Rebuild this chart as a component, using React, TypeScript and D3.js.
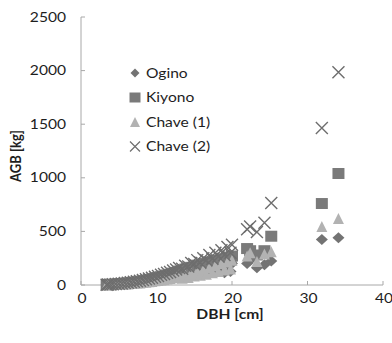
import React from "react";
import * as d3 from "d3";

const dbh = [3.4, 3.6, 3.9, 4.2, 4.6, 5.0, 5.4, 5.8, 6.2, 6.6, 7.0, 7.4, 7.8, 8.2, 8.6, 9.0, 9.4, 9.8, 10.2, 10.6, 11.0, 11.4, 11.8, 12.2, 12.6, 13.0, 13.4, 13.8, 14.2, 14.6, 15.0, 15.4, 15.8, 16.2, 16.6, 17.0, 17.4, 17.8, 18.2, 18.6, 19.0, 19.4, 19.8, 20.0, 22.0, 22.4, 23.3, 24.3, 25.2, 31.9, 34.1];
const ogino = [2, 3, 3, 5, 5, 8, 9, 12, 13, 17, 18, 23, 25, 30, 33, 39, 42, 49, 52, 60, 63, 72, 74, 85, 86, 98, 70, 110, 80, 125, 95, 140, 100, 150, 110, 165, 120, 175, 130, 185, 115, 195, 125, 200, 200, 230, 160, 190, 225, 425, 440];
const kiyono = [3, 4, 5, 7, 8, 11, 13, 16, 19, 23, 26, 31, 35, 40, 45, 52, 57, 65, 70, 78, 84, 94, 100, 111, 118, 130, 125, 148, 140, 165, 158, 185, 170, 200, 185, 215, 195, 230, 210, 245, 220, 260, 235, 270, 340, 320, 280, 320, 455, 760, 1040];
const chave1 = [2, 2, 3, 4, 5, 6, 7, 9, 10, 13, 14, 18, 19, 24, 26, 31, 33, 39, 41, 47, 50, 57, 60, 68, 72, 80, 62, 95, 70, 110, 85, 125, 90, 140, 100, 160, 115, 180, 125, 200, 140, 215, 150, 230, 270, 300, 220, 290, 310, 545, 620];
const chave2 = [3, 4, 5, 7, 9, 12, 14, 18, 21, 26, 30, 36, 40, 47, 53, 61, 68, 77, 84, 95, 102, 114, 122, 135, 145, 158, 152, 180, 172, 205, 195, 232, 210, 250, 230, 280, 245, 300, 265, 325, 280, 355, 300, 375, 520, 545, 495, 580, 765, 1465, 1985];

const seriesNames = ["Ogino", "Kiyono", "Chave (1)", "Chave (2)"];
const xTicks = [0, 10, 20, 30, 40];
const yTicks = [0, 500, 1000, 1500, 2000, 2500];

const FONT = "Lato, 'Open Sans', sans-serif";
const SX = 1.2;

const T = ({ x, y, anchor = "start", bold = false, size = 13, rotate = false, children }: any) => (
  <g transform={`translate(${x},${y}) scale(${SX},1)${rotate ? " rotate(-90)" : ""}`}>
    <text textAnchor={anchor} fontFamily={FONT} fontSize={size} fontWeight={bold ? 700 : 400} fill="#1e1e1e">
      {children}
    </text>
  </g>
);

const diamond = (w: number, h: number) => `M0,${-h / 2}L${w / 2},0L0,${h / 2}L${-w / 2},0Z`;
const square = (w: number, h: number) => `M${-w / 2},${-h / 2}h${w}v${h}h${-w}Z`;
const triangle = (w: number, h: number) => `M0,${-h / 2}L${w / 2},${h / 2}L${-w / 2},${h / 2}Z`;
const cross = (w: number, h: number) => `M${-w / 2},${-h / 2}L${w / 2},${h / 2}M${w / 2},${-h / 2}L${-w / 2},${h / 2}`;

const styles = [
  { path: diamond, fill: "#737373", stroke: "none", w: 12, h: 11, lw: 9, lh: 9 },
  { path: square, fill: "#7a7a7a", stroke: "none", w: 12, h: 11, lw: 11, lh: 10 },
  { path: triangle, fill: "#b2b2b2", stroke: "none", w: 11, h: 11, lw: 10, lh: 10 },
  { path: cross, fill: "none", stroke: "#6e6e6e", w: 12, h: 12, lw: 10, lh: 10 },
];

export default function App() {
  const x = d3.scaleLinear().domain([0, 40]).range([81, 383]);
  const y = d3.scaleLinear().domain([0, 2500]).range([285, 17]);
  const series = [ogino, kiyono, chave1, chave2];
  const axisColor = "#a8a8a8";

  return (
    <svg width={392} height={343} style={{ position: "absolute", left: 0, top: 0, background: "#fff" }}>
      <rect width={392} height={343} fill="#fff" />
      <line x1={x(0)} x2={x(0)} y1={y(2500)} y2={y(0)} stroke={axisColor} strokeWidth={1} />
      <line x1={x(0)} x2={x(40)} y1={y(0)} y2={y(0)} stroke={axisColor} strokeWidth={1} />
      {yTicks.map((t) => (
        <g key={"y" + t}>
          <line x1={x(0)} x2={x(0) + 4} y1={y(t)} y2={y(t)} stroke={axisColor} />
          <T x={66} y={y(t) + 4.5} anchor="end">{t}</T>
        </g>
      ))}
      {xTicks.map((t) => (
        <g key={"x" + t}>
          <line x1={x(t)} x2={x(t)} y1={y(0)} y2={y(0) - 4} stroke={axisColor} />
          <T x={x(t) + 1} y={303} anchor="middle">{t}</T>
        </g>
      ))}
      {series.map((vals, si) => {
        const s = styles[si];
        return (
          <g key={"s" + si}>
            {vals.map((v, i) => (
              <path
                key={i}
                transform={`translate(${x(dbh[i])},${y(v)})`}
                d={s.path(s.w, s.h)}
                fill={s.fill}
                stroke={s.stroke}
                strokeWidth={1.4}
              />
            ))}
          </g>
        );
      })}
      {seriesNames.map((name, i) => {
        const s = styles[i];
        const cy = 73 + i * 24.5;
        return (
          <g key={"l" + i}>
            <path transform={`translate(135,${cy})`} d={s.path(s.lw, s.lh)} fill={s.fill} stroke={s.stroke} strokeWidth={1.2} />
            <T x={146} y={cy + 4.5}>{name}</T>
          </g>
        );
      })}
      <T x={230} y={319} anchor="middle" bold>DBH [cm]</T>
      <T x={21} y={156} anchor="middle" bold rotate>AGB [kg]</T>
    </svg>
  );
}
